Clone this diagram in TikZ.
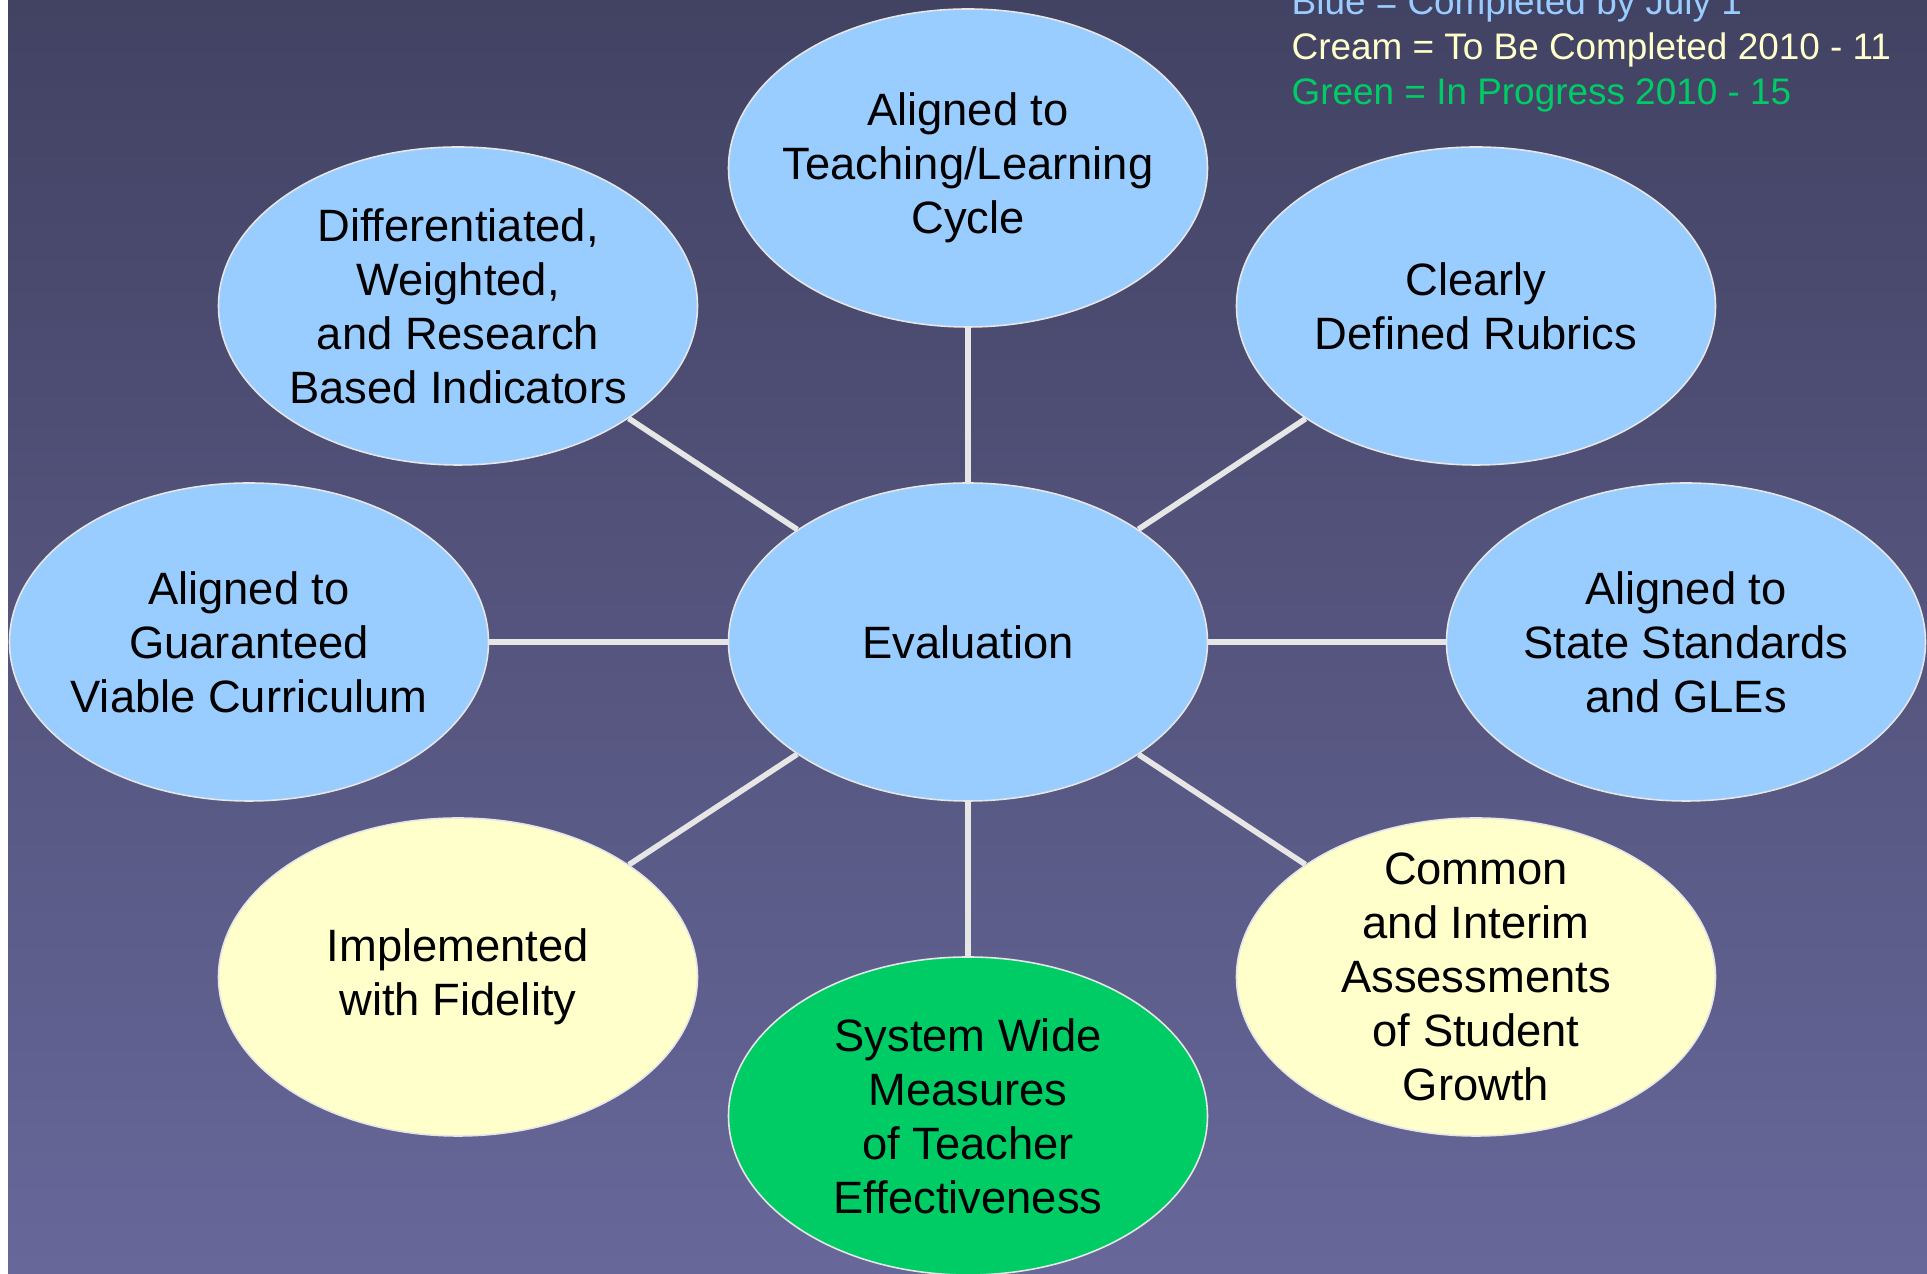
\documentclass[tikz,border=0pt]{standalone}
\usepackage{fontspec}
\setmainfont{Liberation Sans}
\usepackage{tikz}
\usetikzlibrary{shapes.geometric}

\definecolor{ovalblue}{HTML}{99CCFF}
\definecolor{ovalcream}{HTML}{FFFFCC}
\definecolor{ovalgreen}{HTML}{00CC66}
\definecolor{bgtop}{HTML}{424263}
\definecolor{bgbottom}{HTML}{67679A}
\definecolor{spokegray}{HTML}{E6E6E6}

\begin{document}
\begin{tikzpicture}[
		x=1cm, y=-1cm,
		oval/.style={
				ellipse,
				draw=spokegray,
				line width=0.45pt,
				minimum width=4.79cm,
				minimum height=3.18cm,
				inner sep=-0.5cm, % keep every oval the same size
				align=center,
				font=\fontsize{12.9pt}{15.4pt}\selectfont
			},
		blueoval/.style={oval, fill=ovalblue},
		creamoval/.style={oval, fill=ovalcream},
		greenoval/.style={oval, fill=ovalgreen},
		spoke/.style={draw=spokegray, line width=1.6pt},
		legend/.style={anchor=base west, inner sep=0pt, font=\fontsize{10.5pt}{13pt}\selectfont}
	]
	% backdrop with the thin white strip on the left
	\useasboundingbox (0, 0) rectangle (19.27, 12.74);
	\fill[white] (0, 0) rectangle (0.09, 12.74);
	\shade[top color=bgtop, bottom color=bgbottom] (0.08, 0) rectangle (19.27, 12.74);

	% hub and the eight surrounding ovals
	\node[blueoval] (eval) at (9.68, 6.42) {Evaluation};
	\node[blueoval] (cycle) at (9.68, 1.68) {Aligned to\\Teaching/Learning\\Cycle};
	\node[blueoval] (rubrics) at (14.76, 3.06) {Clearly\\Defined Rubrics};
	\node[blueoval] (gles) at (16.86, 6.42) {Aligned to\\State Standards\\and GLEs};
	\node[creamoval] (assess) at (14.76, 9.77) {Common\\and Interim\\Assessments\\of Student\\Growth};
	\node[greenoval] (measures) at (9.68, 11.16) {System Wide\\Measures\\of Teacher\\Effectiveness};
	\node[creamoval] (fidelity) at (4.58, 9.77) {Implemented\\with Fidelity};
	\node[blueoval] (curric) at (2.49, 6.42) {Aligned to\\Guaranteed\\Viable Curriculum};
	\node[blueoval] (indic) at (4.58, 3.06) {Differentiated,\\Weighted,\\and Research\\Based Indicators};

	% spokes from the hub
	\foreach \n in {cycle, rubrics, gles, assess, measures, fidelity, curric, indic}
	\path[spoke] (eval) -- (\n);

	% colour key
	\node[legend, text=ovalblue] (keyblue) at (12.91, 0.15) {Blue = Completed by July 1};
	\node[legend, text=ovalcream] (keycream) at (12.91, 0.60) {Cream = To Be Completed 2010 - 11};
	\node[legend, text=ovalgreen] (keygreen) at (12.91, 1.05) {Green = In Progress 2010 - 15};
\end{tikzpicture}
\end{document}
